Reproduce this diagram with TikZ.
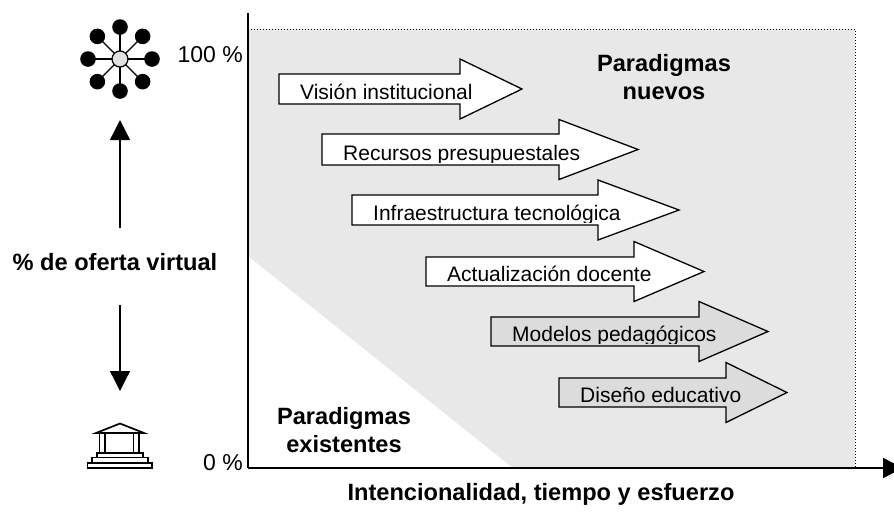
\documentclass[tikz,border=0pt]{standalone}
\usepackage{fontspec}
\setmainfont{Liberation Sans}
\usetikzlibrary{arrows.meta}
\definecolor{bggrey}{HTML}{E8E8E8}
\definecolor{arrgrey}{HTML}{DCDCDC}
\definecolor{hubgrey}{HTML}{E0E0E0}
\tikzset{
  lbl/.style={font=\fontsize{21}{25}\selectfont, inner sep=0pt, anchor=base west},
  bigbold/.style={font=\bfseries\fontsize{23.6}{28}\selectfont, inner sep=0pt, align=center, anchor=base},
  pct/.style={font=\fontsize{23}{27}\selectfont, inner sep=0pt, anchor=base east},
  arrline/.style={draw=black, line width=1.3pt, line join=miter},
  axisline/.style={line width=1.5pt},
  icon/.style={line width=1.7pt},
  vtip/.style={-{Triangle[length=20pt,width=20pt]}, line width=1.3pt},
}
% #1 name, #2 left, #3 top, #4 bottom, #5 head x, #6 tip x, #7 fill, #8 text
\newcommand\blockarrow[8]{%
  \pgfmathsetmacro\bamid{(#3+#4)/2}%
  \pgfmathsetmacro\bahtop{\bamid-30}%
  \pgfmathsetmacro\bahbot{\bamid+30}%
  \pgfmathsetmacro\batx{#2+21}%
  \pgfmathsetmacro\baty{#4-5}%
  \pgfmathsetmacro\baclip{#4-2.5}%
  \path[fill=#7] (#2,#3) -- (#5,#3) -- (#5,\bahtop) -- (#6,\bamid) -- (#5,\bahbot) -- (#5,#4) -- (#2,#4) -- cycle;
  \begin{scope}
    \clip (#2,#3) rectangle (#6,\baclip);
    \node[lbl] (#1) at (\batx,\baty) {#8};
  \end{scope}
  \draw[arrline] (#2,#3) -- (#5,#3) -- (#5,\bahtop) -- (#6,\bamid) -- (#5,\bahbot) -- (#5,#4) -- (#2,#4) -- cycle;
}
\begin{document}
\begin{tikzpicture}[x=1pt,y=-1pt]
\useasboundingbox (0,0) rectangle (894,520);
\clip (0,0) rectangle (894,520);

% background regions
\fill[bggrey] (248,29) -- (855,29) -- (855,468) -- (513,468) -- (248,256) -- cycle;
\draw[dotted, line width=1pt] (248,29) -- (855,29) -- (855,468);

% axes
\coordinate (yaxtop) at (248,13);
\coordinate (origin) at (248,468);
\coordinate (xaxend) at (903,468);
\draw[axisline] (yaxtop) -- (origin);
\draw[axisline, -{Triangle[length=20pt,width=20pt]}] (origin) -- (xaxend);

% block arrows
\blockarrow{a1}{279}{74}{104}{460}{522}{white}{Visión institucional}
\blockarrow{a2}{322}{134}{165}{559}{638}{white}{Recursos presupuestales}
\blockarrow{a3}{352}{195}{225}{598}{679}{white}{Infraestructura tecnológica}
\blockarrow{a4}{426}{257}{286}{634}{704}{white}{Actualización docente}
\blockarrow{a5}{491}{317}{346}{699}{768}{arrgrey}{Modelos pedagógicos}
\blockarrow{a6}{559}{378}{407}{726}{787}{arrgrey}{Diseño educativo}

% region labels (base = last line)
\node[bigbold] (nuevos) at (664,99) {Paradigmas\\nuevos};
\node[bigbold] (exist) at (344,452) {Paradigmas\\existentes};
\node[bigbold] (xlabel) at (541,500) {Intencionalidad, tiempo y esfuerzo};
\node[bigbold] (ylabel) at (115,270) {\% de oferta virtual};
\node[pct] (p100) at (243,62) {100 \%};
\node[pct] (p0) at (243,470) {0 \%};

% network icon
\coordinate (hub) at (120,59);
\foreach \a in {0,45,...,315}{
  \draw[line width=1.2pt] (hub) -- ++(\a:32);
}
\foreach \a in {0,45,...,315}{
  \fill[black] (hub) ++(\a:32) circle (7.8);
}
\node[circle, draw=black, line width=1.2pt, fill=hubgrey, minimum size=16pt, inner sep=0pt] (hubnode) at (hub) {};

% vertical arrows
\coordinate (uptail) at (120,228);
\coordinate (uptip) at (120,120);
\coordinate (dntail) at (120,305);
\coordinate (dntip) at (120,391);
\draw[vtip] (uptail) -- (uptip);
\draw[vtip] (dntail) -- (dntip);

% building icon
\draw[icon, line join=miter] (96,433) -- (120,423.5) -- (144,433) -- cycle;
\draw[icon] (99.5,433) rectangle (105,453);
\draw[icon] (133.5,433) rectangle (139,453);
\draw[icon] (97,453) rectangle (143,457.5);
\draw[icon] (92,457.5) rectangle (148,462.8);
\draw[icon] (87.5,462.8) rectangle (152,468);
\end{tikzpicture}
\end{document}
